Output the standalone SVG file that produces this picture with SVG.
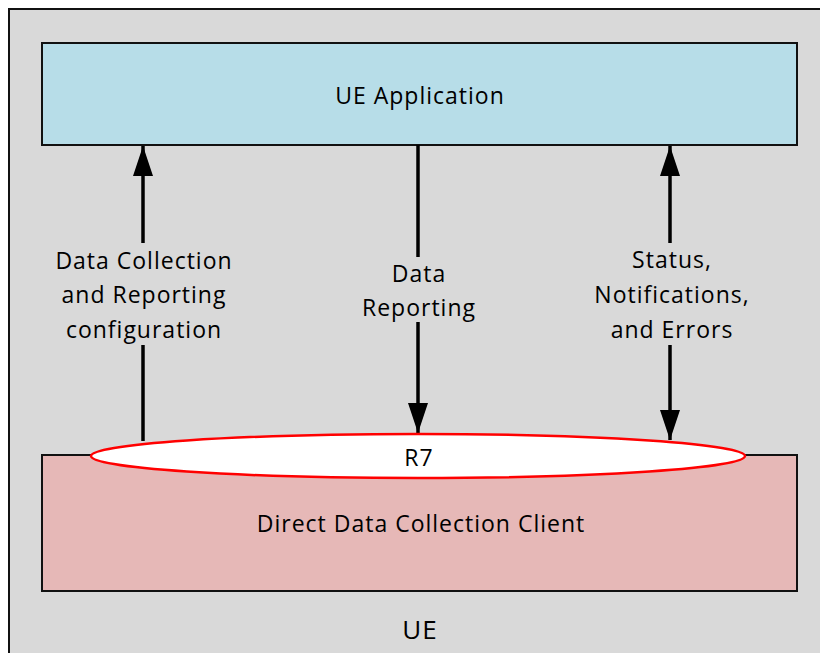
<svg xmlns="http://www.w3.org/2000/svg" width="820" height="653" viewBox="0 0 820 653">
<defs>
<marker id="ah" viewBox="0 0 30 20" refX="30" refY="10" markerWidth="30" markerHeight="20" markerUnits="userSpaceOnUse" orient="auto-start-reverse">
<path d="M0,0 L30,10 L0,20 Z" fill="#000"/>
</marker>
<style>
text{font-family:"Open Sans","Liberation Sans",sans-serif;font-size:23px;letter-spacing:1px;fill:#000;text-anchor:middle}
.ln{stroke:#000;stroke-width:3.5;fill:none}
.bg{fill:#d9d9d9}
</style>
</defs>
<rect x="9" y="9" width="830" height="660" fill="#d9d9d9" stroke="#111" stroke-width="2"/>
<g id="ue-app">
<rect x="42" y="43" width="755" height="102" fill="#b7dde8" stroke="#111" stroke-width="2"/>
<text x="420" y="104">UE Application</text>
</g>
<g id="ddcc">
<rect x="42" y="455" width="755" height="136" fill="#e6b8b7" stroke="#111" stroke-width="2"/>
<text x="421" y="532">Direct Data Collection Client</text>
</g>
<g id="connectors">
<line class="ln" x1="143" y1="441" x2="143" y2="146" marker-end="url(#ah)"/>
<line class="ln" x1="418" y1="145" x2="418" y2="433" marker-end="url(#ah)"/>
<line class="ln" x1="670" y1="146" x2="670" y2="440" marker-start="url(#ah)" marker-end="url(#ah)"/>
<rect class="bg" x="48" y="243" width="190" height="102"/>
<rect class="bg" x="356" y="257" width="124" height="65"/>
<rect class="bg" x="588" y="243" width="168" height="102"/>
<text x="144" y="269">Data Collection</text>
<text x="144" y="303">and Reporting</text>
<text x="144" y="338">configuration</text>
<text x="419" y="282">Data</text>
<text x="419" y="316">Reporting</text>
<text x="672" y="268">Status,</text>
<text x="672" y="303">Notifications,</text>
<text x="672" y="338">and Errors</text>
</g>
<g id="r7">
<ellipse cx="418" cy="456" rx="327" ry="22" fill="#fff" stroke="#ff0000" stroke-width="2.5"/>
<text x="419" y="466">R7</text>
</g>
<g id="ue-label">
<text x="420" y="639" style="font-size:26px">UE</text>
</g>
</svg>
